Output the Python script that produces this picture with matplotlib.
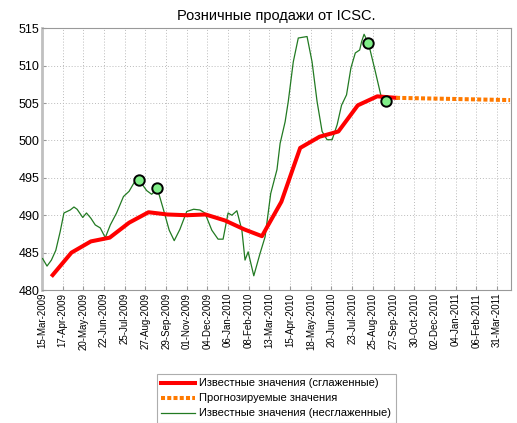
import numpy as np
import matplotlib
matplotlib.use('Agg')
import matplotlib.pyplot as plt
from matplotlib.lines import Line2D

plt.rcParams['font.family'] = ['Liberation Sans', 'DejaVu Sans']

# origin of the x axis (days are counted from here)
start = np.datetime64('2009-03-15')

# smoothed known values, first day of each month
smooth_dates = ['2009-04-01', '2009-05-01', '2009-06-01', '2009-07-01', '2009-08-01',
                '2009-09-01', '2009-10-01', '2009-11-01', '2009-12-01', '2010-01-01',
                '2010-02-01', '2010-03-01', '2010-04-01', '2010-05-01', '2010-06-01',
                '2010-07-01', '2010-08-01', '2010-09-01', '2010-10-01']
smooth_vals = [482.0, 485.0, 486.5, 487.0, 489.0, 490.4, 490.1, 490.0, 490.1, 489.3,
               488.1, 487.2, 491.8, 499.0, 500.5, 501.2, 504.7, 505.9, 505.7]

# forecast
fc_dates = ['2010-10-01', '2010-11-01', '2010-12-01', '2011-01-01', '2011-02-01',
            '2011-03-01', '2011-04-01']
fc_vals = [505.7, 505.65, 505.6, 505.55, 505.5, 505.45, 505.4]

# raw (unsmoothed) values, days since 15-Mar-2009
raw_days = [1, 8, 15, 22, 29, 35, 45, 51, 56, 65, 71, 78, 85, 93, 101, 109, 119, 130,
            139, 148, 155, 167, 175, 180, 184, 194, 203, 211, 220, 231, 242, 252, 260,
            271, 281, 289, 297, 303, 311, 319, 324, 329, 338, 348, 356, 365, 375, 380,
            388, 393, 401, 409, 423, 431, 439, 447, 455, 463, 471, 478, 486, 493, 500,
            507, 510, 514, 521, 532, 542, 549]
raw_vals = [484.2, 483.2, 484.0, 485.3, 487.8, 490.3, 490.7, 491.1, 490.8, 489.7, 490.3,
            489.6, 488.7, 488.3, 487.0, 488.7, 490.3, 492.5, 493.2, 494.5, 494.7, 493.3,
            492.8, 493.2, 493.6, 490.7, 488.0, 486.6, 488.1, 490.5, 490.8, 490.7, 490.3,
            488.0, 486.8, 486.8, 490.3, 490.0, 490.6, 488.0, 484.0, 485.1, 481.9, 484.9,
            487.1, 492.9, 496.1, 499.6, 502.5, 505.2, 510.5, 513.7, 513.9, 510.5, 505.2,
            501.2, 500.1, 500.1, 502.1, 504.7, 506.1, 509.7, 511.7, 512.1, 513.2, 514.2,
            513.0, 509.2, 505.6, 505.3]

# highlighted points
mark_days = [155, 184, 521, 549]
mark_vals = [494.7, 493.6, 513.0, 505.3]

tick_labels = ['15-Mar-2009', '17-Apr-2009', '20-May-2009', '22-Jun-2009', '25-Jul-2009',
               '27-Aug-2009', '29-Sep-2009', '01-Nov-2009', '04-Dec-2009', '06-Jan-2010',
               '08-Feb-2010', '13-Mar-2010', '15-Apr-2010', '18-May-2010', '20-Jun-2010',
               '23-Jul-2010', '25-Aug-2010', '27-Sep-2010', '30-Oct-2010', '02-Dec-2010',
               '04-Jan-2011', '06-Feb-2011', '31-Mar-2011']


def to_days(ds):
    return [(np.datetime64(d) - start).astype(int) for d in ds]


fig = plt.figure(figsize=(5.17, 4.23), dpi=100)
ax = fig.add_axes([42 / 517, 1 - 290 / 423, (510.7 - 42) / 517, (290 - 28.3) / 423])

green = '#227a22'
ax.plot(raw_days, raw_vals, color=green, lw=0.9, zorder=3)
ax.plot(to_days(smooth_dates), smooth_vals, color='#ff0000', lw=2.9,
        solid_joinstyle='round', zorder=4)
ax.plot(to_days(fc_dates), fc_vals, color='#ff7a00', lw=2.9, linestyle=(0, (1, 0.55)),
        dash_capstyle='butt', zorder=4)
ax.plot(mark_days, mark_vals, 'o', ms=7.5, mfc='#80ee88', mec='black', mew=1.4, zorder=5)

ax.set_xlim(0, 748)
ax.set_ylim(480, 515)
ax.set_xticks([33 * i for i in range(len(tick_labels))])
ax.set_xticklabels(tick_labels, rotation=90, fontsize=7)
ax.set_yticks(np.arange(480, 516, 5))
ax.tick_params(axis='y', labelsize=9, pad=2)
ax.tick_params(axis='x', pad=2)
ax.tick_params(direction='in', length=3, color='#999999')
ax.grid(True, linestyle=(0, (1, 2)), color='#bbbbbb', lw=0.7)
for side in ['top', 'right', 'bottom']:
    ax.spines[side].set_color('#999999')
ax.spines['left'].set_color('#c0c0c0')
ax.spines['left'].set_linewidth(2)

ax.set_title('Розничные продажи от ICSC.', fontsize=10.5, pad=6)

handles = [
    Line2D([], [], color='#ff0000', lw=2.9),
    Line2D([], [], color='#ff7a00', lw=2.9, linestyle=(0, (1, 0.55))),
    Line2D([], [], color=green, lw=0.9),
]
labels = ['Известные значения (сглаженные)', 'Прогнозируемые значения',
          'Известные значения (несглаженные)']
leg = fig.legend(handles, labels, loc='upper left', bbox_to_anchor=(157 / 517, 1 - 374 / 423),
                 fontsize=8, frameon=True, fancybox=False, handlelength=3.0,
                 labelspacing=0.45, borderpad=0.4, handletextpad=0.4, borderaxespad=0)
leg.get_frame().set_edgecolor('#999999')
leg.get_frame().set_linewidth(0.8)

fig.savefig('out.png', dpi=100)
